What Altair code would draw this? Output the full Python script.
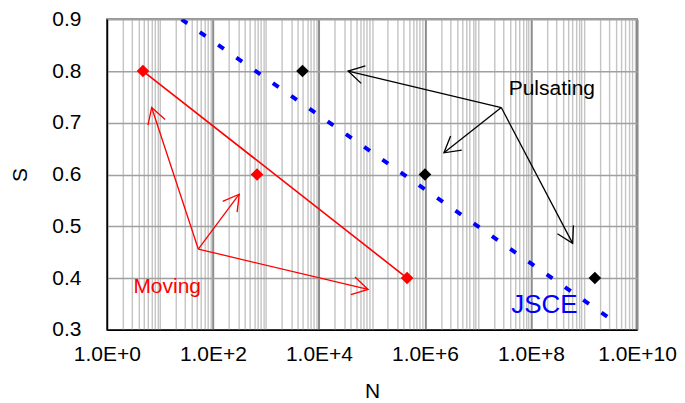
import math
import altair as alt
import pandas as pd

# ---- data ----
moving_N = [4.8, 680, 4.6e5]
moving_S = [0.8, 0.6, 0.4]
pulsating_N = [4900, 1.0e6, 1.6e9]
pulsating_S = [0.8, 0.6, 0.4]

jsce_N = [25.7, 3.5e9]
jsce_S = [0.9, 0.318]

moving_line_N = [4.8, 4.6e5]
moving_line_S = [0.8, 0.4]

# arrows: origin -> tips
moving_arrow_origin = (53, 0.456)
moving_arrow_tips_N = [7.0, 314, 84500]
moving_arrow_tips_S = [0.7295, 0.562, 0.378]
puls_arrow_origin = (2.75e7, 0.7295)
puls_arrow_tips_N = [35500, 2.28e6, 6.1e8]
puls_arrow_tips_S = [0.80, 0.642, 0.467]

labels_text = ["Moving", "Pulsating", "JSCE"]
labels_N = [3.17, 3.8e7, 4.24e7]
labels_S = [0.3705, 0.7533, 0.3318]

x_domain = [1, 1e10]
y_domain = [0.3, 0.9]
major_x = [1, 100, 10000, 1000000, 100000000, 10000000000]
grid_x = [m * 10 ** k for k in range(10) for m in range(1, 10)] + [1e10]
y_ticks = [0.3, 0.4, 0.5, 0.6, 0.7, 0.8, 0.9]

W, H = 531, 311
FONT = "Liberation Sans"

RED = "#FF0000"
BLACK = "#000000"
BLUE = "#0000FF"

xscale = alt.Scale(type="log", domain=x_domain, nice=False)
yscale = alt.Scale(domain=y_domain, nice=False, zero=False)

major_test = "indexof([1,100,10000,1000000,100000000,10000000000], datum.value) >= 0"

x_axis = alt.Axis(
    values=grid_x,
    grid=True,
    gridColor={"condition": {"test": major_test, "value": "#8C8C8C"}, "value": "#C4C4C4"},
    gridWidth={"condition": {"test": major_test, "value": 2}, "value": 1.4},
    labelExpr=major_test + ' ? "1.0E+" + round(log(datum.value)/LN10) : ""',
    labelFlush=False,
    labelOverlap=False,
    ticks=False,
    domain=True,
    domainColor="#000000",
    domainWidth=1.5,
    labelFont=FONT,
    labelFontSize=21,
    labelColor="#000000",
    labelPadding=14,
    title="N",
    titleFont=FONT,
    titleFontSize=21,
    titleFontWeight="normal",
    titleColor="#000000",
    titlePadding=16,
)
y_axis = alt.Axis(
    values=y_ticks,
    format=".1f",
    grid=True,
    gridColor="#A0A0A0",
    gridWidth=1.5,
    ticks=False,
    domain=True,
    domainColor="#000000",
    domainWidth=1.5,
    labelFont=FONT,
    labelFontSize=21,
    labelColor="#000000",
    labelPadding=26,
    title="S",
    titleFont=FONT,
    titleFontSize=21,
    titleFontWeight="normal",
    titleColor="#000000",
    titlePadding=21,
)

X = alt.X("N:Q", scale=xscale, axis=x_axis)
Y = alt.Y("S:Q", scale=yscale, axis=y_axis)

base = alt.Chart(pd.DataFrame({"N": jsce_N, "S": jsce_S})).mark_line(
    color=BLUE, strokeWidth=4, strokeDash=[7, 15.3], strokeCap="butt", clip=True
).encode(x=X, y=Y)

moving_line = alt.Chart(pd.DataFrame({"N": moving_line_N, "S": moving_line_S})).mark_line(
    color=RED, strokeWidth=1.6
).encode(x="N:Q", y="S:Q")

rows = []
for tn, ts in zip(moving_arrow_tips_N, moving_arrow_tips_S):
    rows.append({"N": moving_arrow_origin[0], "S": moving_arrow_origin[1], "N2": tn, "S2": ts, "c": "Moving"})
for tn, ts in zip(puls_arrow_tips_N, puls_arrow_tips_S):
    rows.append({"N": puls_arrow_origin[0], "S": puls_arrow_origin[1], "N2": tn, "S2": ts, "c": "Pulsating"})
for r in rows:
    dx = (math.log10(r["N2"]) - math.log10(r["N"])) * W / 10.0
    dy = -(r["S2"] - r["S"]) * H / 0.6
    r["ang"] = math.degrees(math.atan2(dx, -dy)) % 360
arrows_df = pd.DataFrame(rows)

color_scale = alt.Scale(domain=["Moving", "Pulsating", "JSCE"], range=[RED, BLACK, BLUE])

arrow_lines = alt.Chart(arrows_df).mark_rule(strokeWidth=1.3).encode(
    x="N:Q", y="S:Q", x2="N2:Q", y2="S2:Q",
    color=alt.Color("c:N", scale=color_scale, legend=None),
)
arrow_heads = alt.Chart(arrows_df).mark_point(
    shape="M -0.5 0.866 L 0 0 L 0.5 0.866", filled=False, size=1300, strokeWidth=1.3, opacity=1
).encode(
    x="N2:Q", y="S2:Q", angle=alt.Angle("ang:Q", scale=None),
    color=alt.Color("c:N", scale=color_scale, legend=None),
)

pts_df = pd.DataFrame({
    "N": moving_N + pulsating_N,
    "S": moving_S + pulsating_S,
    "c": ["Moving"] * 3 + ["Pulsating"] * 3,
})
points = alt.Chart(pts_df).mark_point(shape="diamond", filled=True, size=160, opacity=1).encode(
    x="N:Q", y="S:Q", color=alt.Color("c:N", scale=color_scale, legend=None),
)

txt_df = pd.DataFrame({"N": labels_N, "S": labels_S, "t": labels_text,
                       "fs": [21, 21, 26]})
texts = alt.Chart(txt_df).mark_text(align="left", baseline="alphabetic", font=FONT).encode(
    x="N:Q", y="S:Q", text="t:N",
    size=alt.Size("fs:Q", scale=None, legend=None),
    color=alt.Color("t:N", scale=color_scale, legend=None),
)

chart = alt.layer(base, moving_line, arrow_lines, arrow_heads, points, texts).properties(
    width=W, height=H,
    padding={"left": 99, "top": 11, "right": 40, "bottom": 73},
    autosize=alt.AutoSizeParams(type="none"),
    background="white",
).configure_view(stroke="#333333", strokeWidth=1.5)

chart.save("out.html", embed_options={"renderer": "svg", "actions": False})
